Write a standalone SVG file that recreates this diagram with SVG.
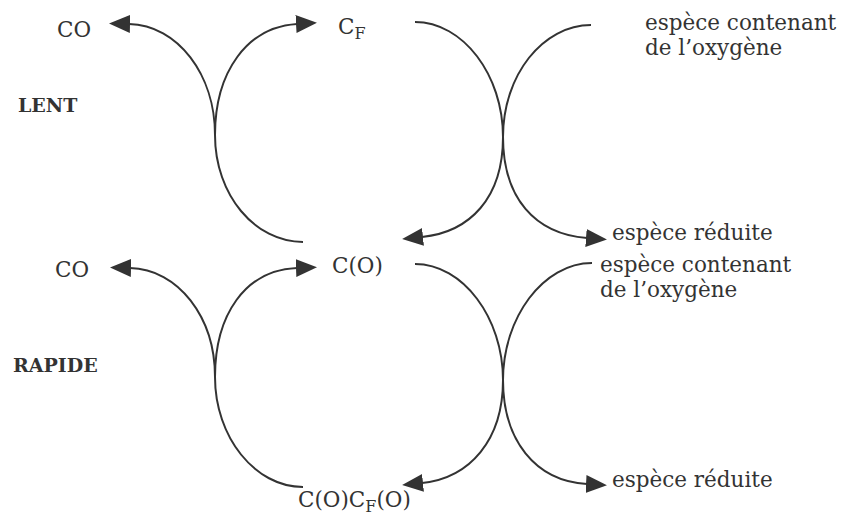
<svg xmlns="http://www.w3.org/2000/svg" width="842" height="525" viewBox="0 0 842 525">
  <style>
    .lbl { font-family: "DejaVu Serif", "Liberation Serif", serif; font-size: 21.5px; fill: #333; }
    .sub { font-size: 16px; }
    .bold { font-family: "DejaVu Serif", "Liberation Serif", serif; font-size: 19px; font-weight: bold; fill: #333; }
    .conn { fill: none; stroke: #333; stroke-width: 2; }
  </style>
  <defs>
    <marker id="arrow" markerUnits="userSpaceOnUse" markerWidth="22" markerHeight="20" viewBox="0 0 22 20" refX="1" refY="10" orient="auto">
      <path d="M0,1 L21,10 L0,19 Z" fill="#333"/>
    </marker>
  </defs>
  <rect width="842" height="525" fill="#fff"/>

  <g id="connectors">
    <!-- top-left -->
    <path class="conn" marker-end="url(#arrow)" d="M303,242 C255,242 215,195 215,135 C215,75 178,25 129,24"/>
    <path class="conn" marker-end="url(#arrow)" d="M215,135 C215,72 247,27 297,24"/>
    <!-- top-right -->
    <path class="conn" marker-end="url(#arrow)" d="M415,22 C463,22 503,75 503,137 C503,198 470,232 422,237"/>
    <path class="conn" marker-end="url(#arrow)" d="M591,25 C543,25 503,75 503,137 C503,198 535,234 587,238"/>
    <!-- bottom-left -->
    <path class="conn" marker-end="url(#arrow)" d="M303,487 C255,487 215,437 215,377 C215,317 178,269 130,268"/>
    <path class="conn" marker-end="url(#arrow)" d="M215,377 C215,315 245,270 297,268"/>
    <!-- bottom-right -->
    <path class="conn" marker-end="url(#arrow)" d="M415,264 C463,264 503,318 503,380 C503,440 470,478 422,483"/>
    <path class="conn" marker-end="url(#arrow)" d="M592,263 C543,263 503,318 503,380 C503,440 535,481 587,484"/>
  </g>

  <g id="co-top"><text class="lbl" x="57" y="37">CO</text></g>
  <g id="cf"><text class="lbl" x="338" y="34">C<tspan class="sub" dy="5">F</tspan></text></g>
  <g id="oxy-top"><text class="lbl" x="645" y="30">espèce contenant</text><text class="lbl" x="645" y="55">de l’oxygène</text></g>
  <g id="lent"><text class="bold" x="18" y="112">LENT</text></g>
  <g id="red-top"><text class="lbl" x="612" y="240">espèce réduite</text></g>
  <g id="co-bottom"><text class="lbl" x="55" y="277">CO</text></g>
  <g id="c-o"><text class="lbl" x="332" y="273">C(O)</text></g>
  <g id="oxy-bottom"><text class="lbl" x="600" y="272">espèce contenant</text><text class="lbl" x="600" y="297">de l’oxygène</text></g>
  <g id="rapide"><text class="bold" x="13" y="372">RAPIDE</text></g>
  <g id="c-o-cf-o"><text class="lbl" x="298" y="507">C(O)C<tspan class="sub" dy="5">F</tspan><tspan dy="-5">(O)</tspan></text></g>
  <g id="red-bottom"><text class="lbl" x="612" y="487">espèce réduite</text></g>
</svg>
